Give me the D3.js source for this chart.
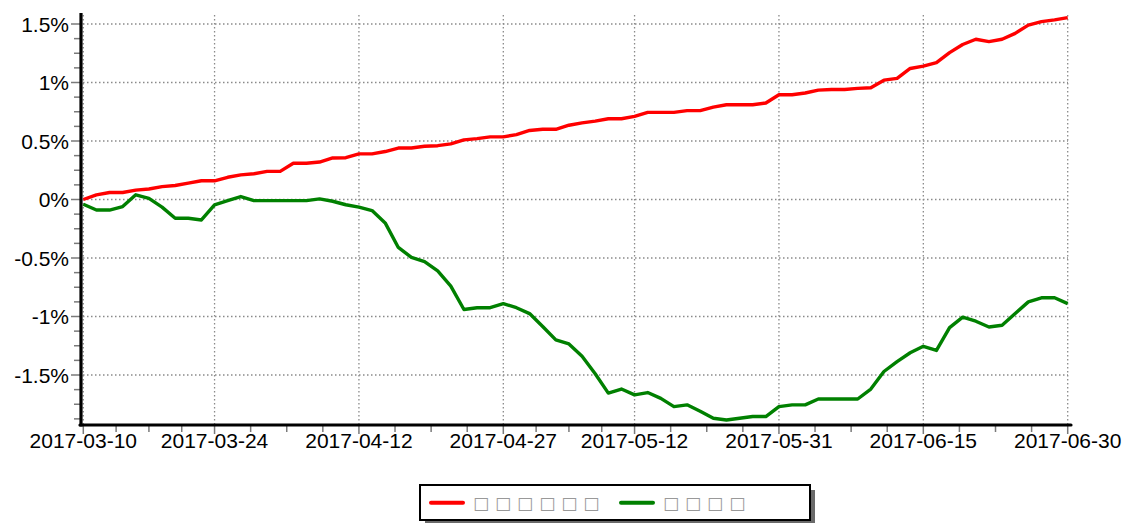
<!DOCTYPE html>
<html>
<head>
<meta charset="utf-8">
<script src="https://cdn.jsdelivr.net/npm/d3@7"></script>
<style>
  html, body { margin: 0; padding: 0; background: #fff; }
  svg { display: block; }
</style>
</head>
<body>
<svg width="1126" height="523"></svg>
<script>
// trading days
var dates = [
    "2017-03-10", "2017-03-13", "2017-03-14", "2017-03-15", "2017-03-16", "2017-03-17",
    "2017-03-20", "2017-03-21", "2017-03-22", "2017-03-23", "2017-03-24",
    "2017-03-27", "2017-03-28", "2017-03-29", "2017-03-30", "2017-03-31",
    "2017-04-05", "2017-04-06", "2017-04-07",
    "2017-04-10", "2017-04-11", "2017-04-12", "2017-04-13", "2017-04-14",
    "2017-04-17", "2017-04-18", "2017-04-19", "2017-04-20", "2017-04-21",
    "2017-04-24", "2017-04-25", "2017-04-26", "2017-04-27", "2017-04-28",
    "2017-05-02", "2017-05-03", "2017-05-04", "2017-05-05",
    "2017-05-08", "2017-05-09", "2017-05-10", "2017-05-11", "2017-05-12",
    "2017-05-15", "2017-05-16", "2017-05-17", "2017-05-18", "2017-05-19",
    "2017-05-22", "2017-05-23", "2017-05-24", "2017-05-25", "2017-05-26",
    "2017-05-31", "2017-06-01", "2017-06-02",
    "2017-06-05", "2017-06-06", "2017-06-07", "2017-06-08", "2017-06-09",
    "2017-06-12", "2017-06-13", "2017-06-14", "2017-06-15", "2017-06-16",
    "2017-06-19", "2017-06-20", "2017-06-21", "2017-06-22", "2017-06-23",
    "2017-06-26", "2017-06-27", "2017-06-28", "2017-06-29", "2017-06-30"
];

// red series (%)
var redValues = [
    0, 0.04, 0.06, 0.06, 0.08, 0.09, 0.11, 0.12, 0.14, 0.16,
    0.16, 0.19, 0.21, 0.22, 0.24, 0.24, 0.31, 0.31, 0.32, 0.355,
    0.357, 0.39, 0.39, 0.41, 0.44, 0.44, 0.455, 0.46, 0.475, 0.51,
    0.52, 0.535, 0.535, 0.555, 0.59, 0.60, 0.60, 0.635, 0.655, 0.67,
    0.69, 0.69, 0.71, 0.745, 0.745, 0.745, 0.76, 0.76, 0.79, 0.81,
    0.81, 0.81, 0.825, 0.895, 0.895, 0.91, 0.935, 0.94, 0.94, 0.95,
    0.955, 1.02, 1.035, 1.12, 1.14, 1.17, 1.255, 1.325, 1.37, 1.35,
    1.37, 1.42, 1.49, 1.52, 1.535, 1.555
];

// green series (%)
var greenValues = [
    -0.04, -0.09, -0.09, -0.06, 0.04, 0.01, -0.065, -0.16, -0.16, -0.175,
    -0.045, -0.01, 0.025, -0.01, -0.01, -0.01, -0.01, -0.01, 0.005, -0.015,
    -0.045, -0.065, -0.095, -0.2, -0.41, -0.495, -0.53, -0.61, -0.74, -0.94,
    -0.925, -0.925, -0.89, -0.925, -0.975, -1.085, -1.2, -1.235, -1.34, -1.49,
    -1.655, -1.62, -1.67, -1.65, -1.7, -1.77, -1.755, -1.81, -1.87, -1.885,
    -1.87, -1.855, -1.855, -1.77, -1.755, -1.755, -1.705, -1.705, -1.705, -1.705,
    -1.62, -1.47, -1.385, -1.31, -1.255, -1.29, -1.095, -1.005, -1.04, -1.09,
    -1.075, -0.975, -0.875, -0.84, -0.84, -0.89
];

var xTickDates = ["2017-03-10", "2017-03-24", "2017-04-12", "2017-04-27",
    "2017-05-12", "2017-05-31", "2017-06-15", "2017-06-30"];
var yTickValues = [-1.5, -1, -0.5, 0, 0.5, 1, 1.5];
var legendNames = ["□□□□□□", "□□□□"];
var seriesColors = ["#ff0000", "#008000"];

var svg = d3.select("svg");

var xScale = d3.scaleLinear().domain([0, dates.length - 1]).range([83.3, 1067.7]);
var yScale = d3.scaleLinear().domain([0, 1.5]).range([199.5, 24]);
var yBottom = 425, yTop = 13;

// major / minor tick positions (in index units)
var majorIdx = xTickDates.map(function (d) { return dates.indexOf(d); });
var minorIdx = [];
for (var k = 0; k < majorIdx.length - 1; k++) {
    for (var m = 1; m < 4; m++) {
        minorIdx.push(majorIdx[k] + (majorIdx[k + 1] - majorIdx[k]) * m / 4);
    }
}
var yMinor = d3.range(-1.875, 1.5, 0.125).filter(function (v) {
    return yTickValues.indexOf(v) < 0;
});

var grid = svg.append("g")
    .attr("stroke", "#8a8a8a")
    .attr("stroke-width", 1.3)
    .attr("stroke-dasharray", "1.5,2.5");

grid.selectAll(".hgrid")
    .data(yTickValues)
    .enter().append("line")
    .attr("x1", 83)
    .attr("x2", 1068)
    .attr("y1", function (d) { return yScale(d); })
    .attr("y2", function (d) { return yScale(d); });

grid.selectAll(".vgrid")
    .data(majorIdx)
    .enter().append("line")
    .attr("x1", function (d) { return xScale(d); })
    .attr("x2", function (d) { return xScale(d); })
    .attr("y1", 15)
    .attr("y2", yBottom);

// y axis ticks
var ticks = svg.append("g").attr("stroke", "#7a7a7a").attr("stroke-width", 1.5);
ticks.selectAll(".ymaj")
    .data(yTickValues)
    .enter().append("line")
    .attr("x1", 71).attr("x2", 81)
    .attr("y1", function (d) { return yScale(d); })
    .attr("y2", function (d) { return yScale(d); });
ticks.selectAll(".ymin")
    .data(yMinor)
    .enter().append("line")
    .attr("x1", 74).attr("x2", 81)
    .attr("y1", function (d) { return yScale(d); })
    .attr("y2", function (d) { return yScale(d); });

// x axis ticks
ticks.selectAll(".xmaj")
    .data(majorIdx)
    .enter().append("line")
    .attr("x1", function (d) { return xScale(d); })
    .attr("x2", function (d) { return xScale(d); })
    .attr("y1", yBottom).attr("y2", 434);
ticks.selectAll(".xmin")
    .data(minorIdx)
    .enter().append("line")
    .attr("x1", function (d) { return xScale(d); })
    .attr("x2", function (d) { return xScale(d); })
    .attr("y1", yBottom).attr("y2", 432);

// axis lines
svg.append("line")
    .attr("x1", 81).attr("x2", 81)
    .attr("y1", yTop).attr("y2", yBottom + 1.5)
    .attr("stroke", "#000").attr("stroke-width", 3.2);
svg.append("line")
    .attr("x1", 80).attr("x2", 1071)
    .attr("y1", yBottom).attr("y2", yBottom)
    .attr("stroke", "#000").attr("stroke-width", 3.2)
    .attr("stroke-linecap", "round");

// tick labels
svg.append("g")
    .selectAll("text")
    .data(yTickValues)
    .enter().append("text")
    .attr("x", 69)
    .attr("y", function (d) { return yScale(d); })
    .attr("dy", "0.36em")
    .attr("text-anchor", "end")
    .attr("font-family", "'Liberation Sans', Arial, sans-serif")
    .attr("font-size", "21px")
    .attr("fill", "#000")
    .text(function (d) { return d + "%"; });

svg.append("g")
    .selectAll("text")
    .data(xTickDates)
    .enter().append("text")
    .attr("x", function (d) { return xScale(dates.indexOf(d)); })
    .attr("y", 448)
    .attr("text-anchor", "middle")
    .attr("font-family", "'Liberation Sans', Arial, sans-serif")
    .attr("font-size", "21px")
    .attr("fill", "#000")
    .text(function (d) { return d; });

// lines
var line = d3.line()
    .x(function (d, i) { return xScale(i); })
    .y(function (d) { return yScale(d); });

[redValues, greenValues].forEach(function (vals, i) {
    svg.append("path")
        .datum(vals)
        .attr("fill", "none")
        .attr("stroke", seriesColors[i])
        .attr("stroke-width", 3.4)
        .attr("stroke-linejoin", "round")
        .attr("d", line);
});

// legend
var lg = svg.append("g");
lg.append("rect")
    .attr("x", 425).attr("y", 490).attr("width", 390).attr("height", 35)
    .attr("fill", "#6a6a6a");
lg.append("rect")
    .attr("x", 420).attr("y", 485).attr("width", 390).attr("height", 35)
    .attr("fill", "#fff").attr("stroke", "#000").attr("stroke-width", 2);

var legendX = [431, 621];
legendNames.forEach(function (name, i) {
    lg.append("line")
        .attr("x1", legendX[i]).attr("x2", legendX[i] + 32)
        .attr("y1", 502.7).attr("y2", 502.7)
        .attr("stroke", seriesColors[i])
        .attr("stroke-width", 4)
        .attr("stroke-linecap", "round");
    lg.append("text")
        .attr("x", legendX[i] + 42)
        .attr("y", 509)
        .attr("font-family", "'DejaVu Sans', sans-serif")
        .attr("font-size", "17px")
        .attr("letter-spacing", "6px")
        .attr("fill", "#999")
        .text(name);
});
</script>
</body>
</html>
